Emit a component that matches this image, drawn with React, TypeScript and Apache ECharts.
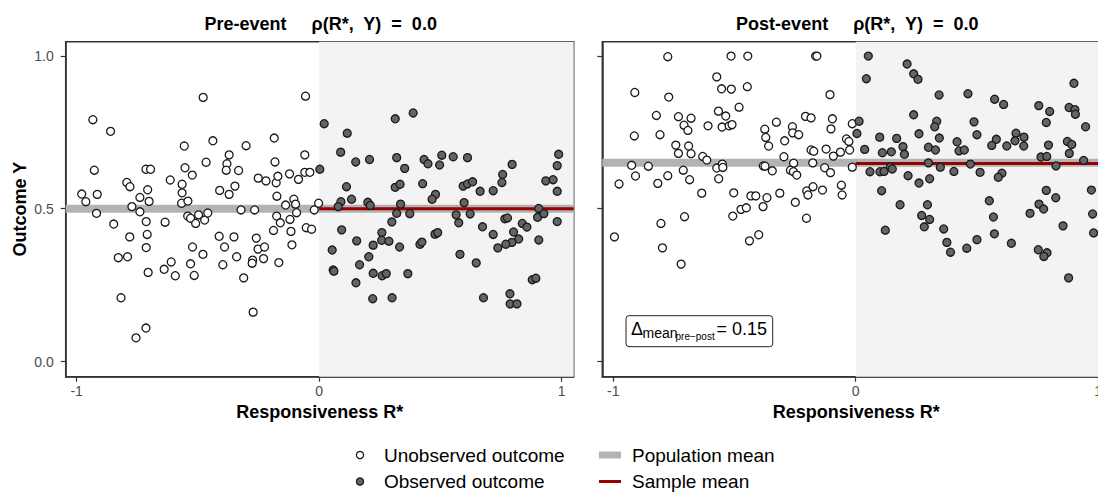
import React, { useEffect, useRef } from "react";
import * as echarts from "echarts";

const X_MIN = -1.045;
const X_MAX = 1.05;
const Y_MIN = -0.049;
const Y_MAX = 1.046;

const panelTitles = ["Pre-event     ρ(R*,  Y)  =  0.0", "Post-event     ρ(R*,  Y)  =  0.0"];
const xTicks = [-1, 0, 1];
const yTicks = [0, 0.5, 1];
const popMean = [0.5, 0.65];
const sampleMean = [0.5, 0.648];
const deltaMean = "0.15";

const preUnobserved: number[][] = [
  [-0.478, 0.864], [-0.056, 0.868], [-0.933, 0.791], [-0.86, 0.753], [-0.556, 0.705], [-0.438, 0.722],
  [-0.301, 0.706], [-0.185, 0.731], [-0.059, 0.676], [-0.371, 0.676], [-0.466, 0.652], [-0.38, 0.647],
  [-0.383, 0.626], [-0.332, 0.625], [-0.182, 0.653], [-0.927, 0.626], [-0.714, 0.629], [-0.695, 0.629],
  [-0.553, 0.634], [-0.523, 0.61], [-0.614, 0.594], [-0.793, 0.586], [-0.78, 0.572], [-0.707, 0.562],
  [-0.739, 0.537], [-0.701, 0.524], [-0.565, 0.58], [-0.565, 0.552], [-0.567, 0.518], [-0.541, 0.525],
  [-0.41, 0.56], [-0.371, 0.547], [-0.347, 0.574], [-0.251, 0.6], [-0.219, 0.591], [-0.177, 0.585],
  [-0.17, 0.606], [-0.174, 0.541], [-0.122, 0.614], [-0.085, 0.596], [-0.059, 0.619], [-0.038, 0.619],
  [-0.104, 0.531], [-0.097, 0.515], [-0.138, 0.512], [-0.979, 0.548], [-0.962, 0.523], [-0.915, 0.547],
  [-0.772, 0.507], [-0.002, 0.518], [-0.918, 0.485], [-0.739, 0.49], [-0.847, 0.45], [-0.713, 0.458],
  [-0.635, 0.456], [-0.542, 0.476], [-0.53, 0.469], [-0.497, 0.48], [-0.509, 0.452], [-0.472, 0.463],
  [-0.459, 0.486], [-0.322, 0.496], [-0.266, 0.496], [-0.175, 0.476], [-0.16, 0.454], [-0.12, 0.465],
  [-0.093, 0.487], [-0.02, 0.496], [-0.188, 0.429], [-0.116, 0.426], [-0.053, 0.438], [-0.031, 0.433],
  [-0.112, 0.382], [-0.781, 0.408], [-0.709, 0.416], [-0.713, 0.373], [-0.828, 0.34], [-0.79, 0.343],
  [-0.705, 0.292], [-0.639, 0.302], [-0.61, 0.326], [-0.593, 0.281], [-0.53, 0.32], [-0.522, 0.375],
  [-0.479, 0.351], [-0.515, 0.282], [-0.412, 0.41], [-0.39, 0.375], [-0.351, 0.408], [-0.34, 0.343],
  [-0.397, 0.317], [-0.311, 0.274], [-0.259, 0.404], [-0.252, 0.368], [-0.225, 0.375], [-0.274, 0.332],
  [-0.276, 0.322], [-0.229, 0.337], [-0.166, 0.324], [-0.817, 0.209], [-0.272, 0.162], [-0.714, 0.11],
  [-0.755, 0.078],
];

const preObserved: number[][] = [
  [0.021, 0.778], [0.116, 0.747], [0.314, 0.794], [0.388, 0.813], [0.089, 0.685], [0.151, 0.653],
  [0.208, 0.661], [0.32, 0.667], [0.353, 0.632], [0.433, 0.661], [0.449, 0.647], [0.506, 0.675],
  [0.497, 0.643], [0.553, 0.67], [0.612, 0.667], [0.796, 0.645], [0.757, 0.612], [0.754, 0.586],
  [0.988, 0.678], [0.982, 0.641], [0.935, 0.591], [0.965, 0.595], [0.982, 0.557], [0.003, 0.629],
  [0.113, 0.572], [0.134, 0.531], [0.09, 0.523], [0.079, 0.507], [0.201, 0.521], [0.211, 0.511],
  [0.314, 0.57], [0.334, 0.58], [0.336, 0.515], [0.427, 0.582], [0.48, 0.547], [0.466, 0.531],
  [0.594, 0.574], [0.612, 0.581], [0.633, 0.588], [0.664, 0.557], [0.718, 0.559], [0.598, 0.52],
  [0.906, 0.501], [0.32, 0.485], [0.374, 0.484], [0.3, 0.457], [0.093, 0.431], [0.155, 0.395],
  [0.054, 0.365], [0.223, 0.381], [0.259, 0.422], [0.258, 0.397], [0.288, 0.394], [0.332, 0.375],
  [0.205, 0.343], [0.167, 0.317], [0.058, 0.3], [0.061, 0.296], [0.152, 0.258], [0.223, 0.289],
  [0.26, 0.281], [0.277, 0.288], [0.366, 0.288], [0.221, 0.206], [0.301, 0.209], [0.416, 0.384],
  [0.424, 0.391], [0.478, 0.417], [0.489, 0.422], [0.565, 0.48], [0.576, 0.454], [0.623, 0.483],
  [0.581, 0.351], [0.648, 0.323], [0.674, 0.441], [0.718, 0.416], [0.766, 0.467], [0.777, 0.47],
  [0.802, 0.424], [0.838, 0.452], [0.857, 0.44], [0.823, 0.401], [0.795, 0.39], [0.77, 0.384],
  [0.737, 0.372], [0.901, 0.472], [0.927, 0.484], [0.906, 0.398], [0.982, 0.458], [0.678, 0.209],
  [0.787, 0.222], [0.788, 0.189], [0.816, 0.189], [0.879, 0.268], [0.894, 0.273],
];

const postUnobserved: number[][] = [
  [-0.775, 0.997], [-0.514, 0.999], [-0.445, 0.999], [-0.165, 0.999], [-0.16, 0.999], [-0.573, 0.931],
  [-0.553, 0.892], [-0.513, 0.891], [-0.447, 0.899], [-0.911, 0.88], [-0.771, 0.865], [-0.106, 0.873],
  [-0.481, 0.832], [-0.822, 0.805], [-0.731, 0.801], [-0.679, 0.796], [-0.566, 0.819], [-0.536, 0.803],
  [-0.708, 0.773], [-0.692, 0.756], [-0.609, 0.771], [-0.551, 0.767], [-0.522, 0.771], [-0.51, 0.775],
  [-0.327, 0.783], [-0.207, 0.802], [-0.184, 0.797], [-0.096, 0.794], [-0.014, 0.778], [-0.913, 0.738],
  [-0.807, 0.742], [-0.375, 0.76], [-0.371, 0.733], [-0.261, 0.768], [-0.26, 0.748], [-0.235, 0.742],
  [-0.102, 0.761], [-0.293, 0.722], [-0.359, 0.705], [-0.742, 0.708], [-0.689, 0.705], [-0.731, 0.681],
  [-0.679, 0.68], [-0.631, 0.671], [-0.614, 0.659], [-0.296, 0.67], [-0.184, 0.692], [-0.173, 0.688],
  [-0.122, 0.695], [-0.092, 0.672], [-0.063, 0.685], [-0.038, 0.728], [-0.028, 0.72], [-0.025, 0.692],
  [-0.924, 0.642], [-0.855, 0.639], [-0.908, 0.607], [-0.775, 0.608], [-0.711, 0.626], [-0.685, 0.595],
  [-0.816, 0.583], [-0.976, 0.581], [-0.573, 0.633], [-0.55, 0.646], [-0.548, 0.635], [-0.565, 0.598],
  [-0.635, 0.551], [-0.503, 0.552], [-0.381, 0.64], [-0.374, 0.639], [-0.344, 0.624], [-0.256, 0.649],
  [-0.269, 0.626], [-0.257, 0.621], [-0.243, 0.61], [-0.177, 0.65], [-0.128, 0.634], [-0.104, 0.618],
  [-0.014, 0.636], [-0.432, 0.542], [-0.412, 0.542], [-0.366, 0.536], [-0.313, 0.551], [-0.249, 0.521],
  [-0.202, 0.558], [-0.197, 0.545], [-0.176, 0.572], [-0.137, 0.561], [-0.059, 0.577], [-0.056, 0.545],
  [-0.473, 0.498], [-0.451, 0.503], [-0.382, 0.507], [-0.995, 0.408], [-0.803, 0.452], [-0.797, 0.372],
  [-0.72, 0.319], [-0.706, 0.474], [-0.507, 0.476], [-0.203, 0.469], [-0.438, 0.395], [-0.4, 0.415],
];

const postObserved: number[][] = [
  [0.052, 0.999], [0.044, 0.925], [0.212, 0.973], [0.239, 0.941], [0.257, 0.923], [0.344, 0.872],
  [0.463, 0.876], [0.573, 0.858], [0.61, 0.841], [0.755, 0.837], [0.8, 0.818], [0.88, 0.831],
  [0.904, 0.824], [0.906, 0.809], [0.9, 0.91], [0.948, 0.768], [0.014, 0.786], [0.005, 0.746],
  [0.239, 0.807], [0.334, 0.786], [0.326, 0.768], [0.488, 0.784], [0.5, 0.742], [0.261, 0.745],
  [0.345, 0.731], [0.099, 0.734], [0.169, 0.73], [0.195, 0.703], [0.201, 0.678], [0.037, 0.694],
  [0.11, 0.683], [0.147, 0.686], [0.3, 0.701], [0.329, 0.692], [0.418, 0.719], [0.426, 0.689],
  [0.448, 0.692], [0.58, 0.727], [0.561, 0.707], [0.623, 0.705], [0.661, 0.747], [0.657, 0.722],
  [0.694, 0.734], [0.693, 0.705], [0.786, 0.782], [0.795, 0.708], [0.873, 0.72], [0.891, 0.71],
  [0.881, 0.681], [0.764, 0.669], [0.788, 0.671], [0.94, 0.658], [0.3, 0.65], [0.473, 0.646],
  [0.059, 0.621], [0.1, 0.621], [0.117, 0.622], [0.143, 0.637], [0.151, 0.63], [0.349, 0.636],
  [0.405, 0.622], [0.513, 0.619], [0.826, 0.64], [0.216, 0.608], [0.261, 0.584], [0.305, 0.598],
  [0.603, 0.616], [0.588, 0.603], [0.107, 0.559], [0.786, 0.56], [0.825, 0.536], [0.972, 0.561],
  [0.183, 0.513], [0.296, 0.513], [0.551, 0.526], [0.756, 0.515], [0.775, 0.499], [0.272, 0.478],
  [0.305, 0.465], [0.283, 0.441], [0.122, 0.43], [0.363, 0.434], [0.376, 0.39], [0.391, 0.358],
  [0.458, 0.371], [0.5, 0.399], [0.568, 0.473], [0.572, 0.418], [0.642, 0.387], [0.719, 0.485],
  [0.753, 0.366], [0.789, 0.356], [0.776, 0.344], [0.855, 0.444], [0.878, 0.274], [0.977, 0.483],
  [0.981, 0.421],
];

const legendLabels = ["Unobserved outcome", "Observed outcome", "Population mean", "Sample mean"];

const FONT = "'Liberation Sans', Arial, Helvetica, sans-serif";
const INK = "#333333";
const GRID_LEFT = [65.7, 602.3];
const GRID_TOP = 41.7;
const GRID_W = 508;
const GRID_H = 335;

export default function App() {
  const ref = useRef<HTMLDivElement>(null);

  useEffect(() => {
    if (!ref.current) return;
    const chart = echarts.init(ref.current, undefined, { renderer: "svg" });

    const panels = [
      { unobs: preUnobserved, obs: preObserved },
      { unobs: postUnobserved, obs: postObserved },
    ];

    const grids = panels.map((_, i) => ({
      left: GRID_LEFT[i],
      top: GRID_TOP,
      width: GRID_W,
      height: GRID_H,
      show: true,
      backgroundColor: "#ffffff",
      borderColor: INK,
      borderWidth: 1.5,
      containLabel: false,
    }));

    const xAxes = panels.map((_, i) => ({
      type: "value",
      gridIndex: i,
      min: X_MIN,
      max: X_MAX,
      splitLine: { show: false },
      axisLine: { show: true, onZero: false, lineStyle: { color: INK, width: 1.5 } },
      axisTick: { show: true, length: 5, customValues: xTicks, lineStyle: { color: INK, width: 1.2 } },
      axisLabel: {
        show: true,
        customValues: xTicks,
        color: "#4d4d4d",
        fontSize: 14,
        fontFamily: FONT,
        margin: 7,
        formatter: (v: number) => String(v),
      },
      name: "Responsiveness R*",
      nameLocation: "middle",
      nameGap: 25,
      nameTextStyle: { fontSize: 18, fontWeight: "bold", color: "#000", fontFamily: FONT },
    }));

    const yAxes = panels.map((_, i) => ({
      type: "value",
      gridIndex: i,
      min: Y_MIN,
      max: Y_MAX,
      splitLine: { show: false },
      axisLine: { show: true, onZero: false, lineStyle: { color: INK, width: 1.5 } },
      axisTick: { show: true, length: 5, customValues: yTicks, lineStyle: { color: INK, width: 1.2 } },
      axisLabel: {
        show: i === 0,
        customValues: yTicks,
        color: "#4d4d4d",
        fontSize: 14,
        fontFamily: FONT,
        margin: 12,
        formatter: (v: number) => v.toFixed(1),
      },
      name: i === 0 ? "Outcome Y" : "",
      nameLocation: "middle",
      nameGap: 37,
      nameTextStyle: { fontSize: 18, fontWeight: "bold", color: "#000", fontFamily: FONT },
    }));

    const series: any[] = [];
    panels.forEach((p, i) => {
      series.push({
        type: "scatter",
        xAxisIndex: i,
        yAxisIndex: i,
        data: [],
        silent: true,
        z: 0,
        markArea: {
          silent: true,
          itemStyle: { color: "#f3f3f3" },
          data: [[{ xAxis: 0 }, { xAxis: X_MAX }]],
        },
      });
      series.push({
        type: "line",
        xAxisIndex: i,
        yAxisIndex: i,
        data: [[X_MIN, popMean[i]], [X_MAX, popMean[i]]],
        symbol: "none",
        silent: true,
        z: 1,
        lineStyle: { color: "#b3b3b3", width: 8, cap: "butt" },
      });
      series.push({
        type: "line",
        xAxisIndex: i,
        yAxisIndex: i,
        data: [[0, sampleMean[i]], [X_MAX, sampleMean[i]]],
        symbol: "none",
        silent: true,
        z: 2,
        lineStyle: { color: "#990000", width: 3, cap: "butt" },
      });
      series.push({
        type: "scatter",
        xAxisIndex: i,
        yAxisIndex: i,
        data: p.unobs,
        symbol: "circle",
        symbolSize: 8,
        silent: true,
        z: 3,
        itemStyle: { color: "#ffffff", borderColor: "#1a1a1a", borderWidth: 1.3, opacity: 1 },
      });
      series.push({
        type: "scatter",
        xAxisIndex: i,
        yAxisIndex: i,
        data: p.obs,
        symbol: "circle",
        symbolSize: 8,
        silent: true,
        z: 3,
        itemStyle: { color: "#646464", borderColor: "#1a1a1a", borderWidth: 1.3, opacity: 1 },
      });
    });

    const titles = panelTitles.map((t, i) => ({
      text: t,
      left: GRID_LEFT[i] + GRID_W / 2 - 4,
      top: 10,
      textAlign: "center",
      textStyle: { fontSize: 18, fontWeight: "bold", color: "#000", fontFamily: FONT },
    }));

    const graphic: any[] = [
      {
        type: "rect",
        shape: { x: 626, y: 315.7, width: 146.7, height: 31, r: 3 },
        style: { fill: "#fff", stroke: "#222", lineWidth: 1 },
        z: 10,
      },
      { type: "text", x: 631, y: 328.5, z: 11, style: { text: "Δ", font: `18px ${FONT}`, fill: "#000", verticalAlign: "middle" } },
      { type: "text", x: 642.5, y: 333, z: 11, style: { text: "mean", font: `14px ${FONT}`, fill: "#000", verticalAlign: "middle" } },
      { type: "text", x: 675.5, y: 336, z: 11, style: { text: "pre−post", font: `10px ${FONT}`, fill: "#000", verticalAlign: "middle" } },
      { type: "text", x: 716.5, y: 328.5, z: 11, style: { text: "= " + deltaMean, font: `18px ${FONT}`, fill: "#000", verticalAlign: "middle" } },
      { type: "circle", shape: { cx: 360, cy: 455, r: 3.6 }, style: { fill: "#fff", stroke: "#1a1a1a", lineWidth: 1.2 } },
      { type: "text", x: 384, y: 455, style: { text: legendLabels[0], font: `19px ${FONT}`, fill: "#000", verticalAlign: "middle" } },
      { type: "circle", shape: { cx: 360, cy: 481.5, r: 3.6 }, style: { fill: "#646464", stroke: "#1a1a1a", lineWidth: 1.2 } },
      { type: "text", x: 384, y: 481.5, style: { text: legendLabels[1], font: `19px ${FONT}`, fill: "#000", verticalAlign: "middle" } },
      { type: "rect", shape: { x: 599, y: 451.5, width: 22, height: 7 }, style: { fill: "#b3b3b3" } },
      { type: "text", x: 632, y: 455, style: { text: legendLabels[2], font: `19px ${FONT}`, fill: "#000", verticalAlign: "middle" } },
      { type: "line", shape: { x1: 599, y1: 481.5, x2: 621, y2: 481.5 }, style: { stroke: "#990000", lineWidth: 3 } },
      { type: "text", x: 632, y: 481.5, style: { text: legendLabels[3], font: `19px ${FONT}`, fill: "#000", verticalAlign: "middle" } },
    ];

    chart.setOption({
      animation: false,
      backgroundColor: "#ffffff",
      textStyle: { fontFamily: FONT },
      title: titles,
      grid: grids,
      xAxis: xAxes,
      yAxis: yAxes,
      series,
      graphic,
    });

    return () => chart.dispose();
  }, []);

  return (
    <div style={{ position: "fixed", left: 0, top: 0, width: 1098, height: 494, overflow: "hidden", background: "#fff" }}>
      <div ref={ref} style={{ width: 1114, height: 494 }} />
    </div>
  );
}
